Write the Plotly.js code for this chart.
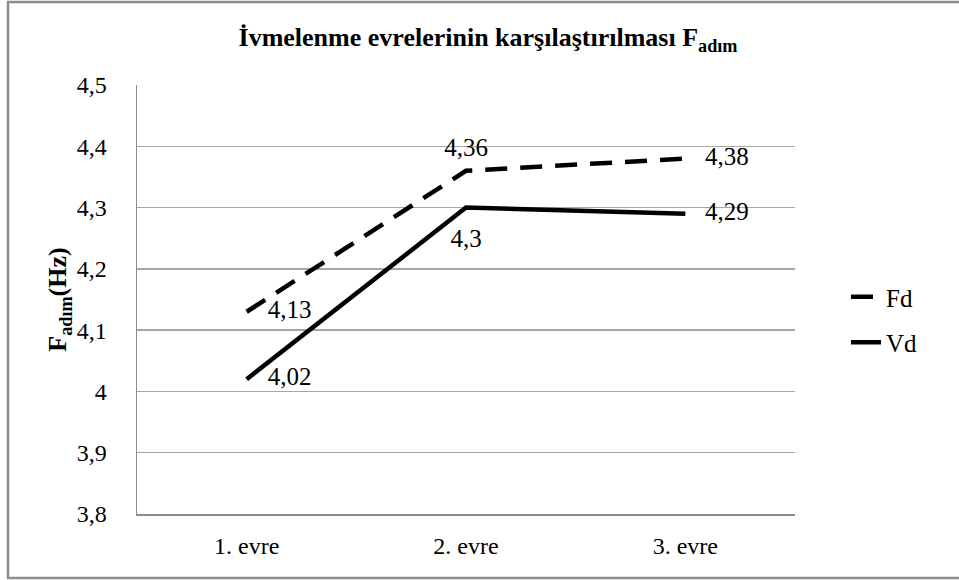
<!DOCTYPE html>
<html>
<head>
<meta charset="utf-8">
<script src="https://cdn.plot.ly/plotly-3.0.1.min.js"></script>
<style>html,body{margin:0;padding:0;background:#fff;}#chart{width:959px;height:580px;}</style>
</head>
<body>
<div id="chart"></div>
<script>
const categories = ['1. evre', '2. evre', '3. evre'];
const fdValues = [4.13, 4.36, 4.38];
const vdValues = [4.02, 4.30, 4.29];
const seriesNames = ['Fd', 'Vd'];
const yTickValues = [3.8, 3.9, 4.0, 4.1, 4.2, 4.3, 4.4, 4.5];

const fmt = v => String(Math.round(v * 100) / 100).replace('.', ',');
const serif = '"Times New Roman", "Liberation Serif", serif';

const traces = [
  {
    x: categories, y: fdValues, name: seriesNames[0], type: 'scatter', mode: 'lines',
    line: {color: '#000', width: 4.5, dash: '22px,13px'}, legendgroup: 'a'
  },
  {
    x: categories, y: vdValues, name: seriesNames[1], type: 'scatter', mode: 'lines',
    line: {color: '#000', width: 4.5}, legendgroup: 'b'
  },
  {
    x: categories, y: fdValues, type: 'scatter', mode: 'markers+text', showlegend: false,
    marker: {size: [32, 12, 30], color: 'rgba(0,0,0,0)', line: {width: 0}},
    text: fdValues.map(fmt), textposition: ['middle right', 'top center', 'middle right'],
    textfont: {family: serif, size: 25, color: '#000'}, cliponaxis: false
  },
  {
    x: categories, y: vdValues, type: 'scatter', mode: 'markers+text', showlegend: false,
    marker: {size: [32, 32, 30], color: 'rgba(0,0,0,0)', line: {width: 0}},
    text: vdValues.map(fmt), textposition: ['middle right', 'bottom center', 'middle right'],
    textfont: {family: serif, size: 25, color: '#000'}, cliponaxis: false
  }
];

const L = 137, R = 795, T = 85, B = 514, W = 959, H = 580;
const px = x => (x - L) / (R - L);
const py = y => (B - y) / (B - T);

const layout = {
  width: W, height: H,
  margin: {l: L, r: W - R, t: T, b: H - B, pad: 0},
  paper_bgcolor: '#fff', plot_bgcolor: '#fff',
  separators: ', ',
  font: {family: serif, color: '#000', size: 24},
  hovermode: false,
  title: {
    text: '<b>İvmelenme evrelerinin karşılaştırılması F<sub>adım</sub></b>',
    font: {family: serif, size: 26, color: '#000'},
    x: 488 / W, xref: 'container', xanchor: 'center', y: 1 - 37 / H, yref: 'container', yanchor: 'middle'
  },
  xaxis: {
    type: 'category', range: [-0.5, 2.5], showgrid: false, showline: true, linecolor: '#8c8c8c', linewidth: 1.5,
    ticks: '', tickfont: {family: serif, size: 24, color: '#000'}, ticklabelstandoff: 10,
    fixedrange: true
  },
  yaxis: {
    range: [3.8, 4.5], tickvals: yTickValues, showgrid: true, gridcolor: '#a6a6a6', gridwidth: 1.5,
    showline: true, linecolor: '#8c8c8c', linewidth: 1.5, zeroline: false, ticks: '',
    tickfont: {family: serif, size: 24, color: '#000'}, ticklabelstandoff: 24,
    title: {text: '<b>F<sub>adım</sub>(Hz)</b>', font: {family: serif, size: 26, color: '#000'}, standoff: 2}
  },
  legend: {
    x: px(846), y: py(274), xanchor: 'left', yanchor: 'top',
    font: {family: serif, size: 25, color: '#000'}, tracegroupgap: 10, traceorder: 'grouped',
    bgcolor: 'rgba(0,0,0,0)'
  },
  showlegend: true,
  shapes: [{
    type: 'rect', xref: 'paper', yref: 'paper',
    x0: px(8), x1: px(990), y0: py(578), y1: py(2),
    line: {color: '#8c8c8c', width: 2.5}, fillcolor: 'rgba(0,0,0,0)', layer: 'below'
  }]
};

Plotly.newPlot('chart', traces, layout, {displayModeBar: false, staticPlot: true});
</script>
</body>
</html>
